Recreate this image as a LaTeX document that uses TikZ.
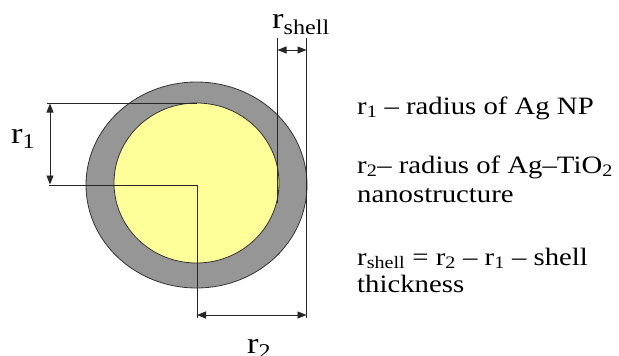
\documentclass[tikz,border=0pt]{standalone}
\usepackage{fontspec}
\setmainfont{Liberation Serif}[FakeStretch=1.15]
\usetikzlibrary{arrows.meta,shapes.geometric}
\definecolor{shellgray}{HTML}{969696}
\definecolor{coreyellow}{HTML}{FFFF99}
\tikzset{
  dimline/.style={draw=black!85, line width=0.9pt},
  dimarrow/.style={dimline, {Triangle[length=9pt,width=7pt]}-{Triangle[length=9pt,width=7pt]}},
  desc/.style={anchor=base west, inner sep=0pt, font=\fontsize{25}{29}\selectfont},
  lbl/.style={anchor=base west, inner sep=0pt, font=\fontsize{30}{34}\selectfont},
  disc/.style={ellipse, draw=black!80, line width=0.8pt, inner sep=0pt},
}
\begin{document}
\begin{tikzpicture}[x=1pt,y=-1pt]
\useasboundingbox (0,0) rectangle (619,356);
% shell and core
\node[disc, fill=shellgray, minimum width=221pt, minimum height=206pt] (outer) at (196.5,185) {};
\node[disc, fill=coreyellow, minimum width=165pt, minimum height=160pt] (inner) at (196.5,183) {};
% reference coordinates
\coordinate (c) at (197,185);
\coordinate (topL) at (47,103);
\coordinate (topR) at (197,103);
\coordinate (midL) at (49,185);
\coordinate (bot) at (197,318);
\coordinate (rsTop) at (277.5,38);
\coordinate (rsBot) at (277.5,203);
\coordinate (rtTop) at (306.5,38);
\coordinate (rtBot) at (306.5,318);
\coordinate (a1) at (50,103.5);
\coordinate (a2) at (50,184.5);
\coordinate (s1) at (277.5,50);
\coordinate (s2) at (306.5,50);
\coordinate (b1) at (197,315);
\coordinate (b2) at (306.5,315);
% dimension lines
\draw[dimline] (topL) -- (topR);
\draw[dimline] (midL) -- (c) -- (bot);
\draw[dimline] (rsTop) -- (rsBot);
\draw[dimline] (rtTop) -- (rtBot);
\draw[dimarrow] (a1) -- (a2);
\draw[dimarrow] (s1) -- (s2);
\draw[dimarrow] (b1) -- (b2);
% labels
\node[lbl] (l1) at (11,143) {r\textsubscript{1}};
\node[lbl] (ls) at (272,28) {r\textsubscript{shell}};
\node[lbl] (l2) at (247,353) {r\textsubscript{2}};
% legend
\node[desc] (t1) at (357,114) {r\textsubscript{1} – radius of Ag NP};
\node[desc] (t2) at (357,173) {r\textsubscript{2}– radius of Ag–TiO\textsubscript{2}};
\node[desc] (t3) at (357,202) {nanostructure};
\node[desc] (t4) at (357,265) {r\textsubscript{shell} = r\textsubscript{2} – r\textsubscript{1} – shell};
\node[desc] (t5) at (357,292) {thickness};
\end{tikzpicture}
\end{document}
